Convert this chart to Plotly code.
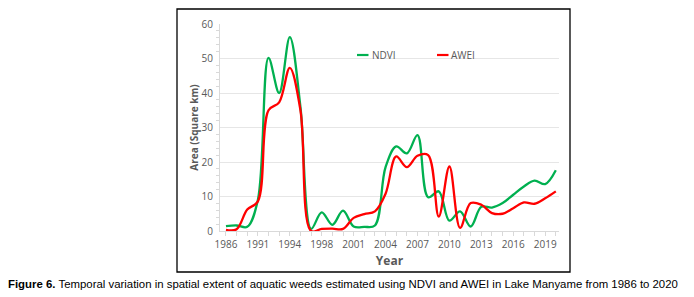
import plotly.graph_objects as go

years = ["1986", "1988", "1990", "1991", "1992", "1993", "1994", "1996", "1997",
         "1998", "1999", "2000", "2001", "2002", "2003", "2004", "2005", "2006",
         "2007", "2008", "2009", "2010", "2011", "2012", "2013", "2014", "2015",
         "2016", "2017", "2018", "2019", "2020"]
ndvi = [1.4, 1.6, 1.2, 9.0, 50.2, 40.0, 56.2, 36.0, 0.6,
        5.4, 1.8, 5.9, 1.3, 1.2, 1.6, 18.5, 24.5, 22.5,
        27.8, 9.8, 11.5, 3.0, 5.7, 1.3, 7.0, 6.8, 8.1,
        10.5, 12.9, 14.6, 13.6, 17.6]
awei = [0.3, 0.5, 6.2, 8.6, 35.0, 37.3, 47.3, 35.0, 0.0,
        0.6, 0.7, 0.6, 3.8, 4.9, 5.7, 10.8, 21.6, 18.5,
        21.8, 22.0, 4.2, 18.7, 0.9, 8.1, 7.6, 5.2, 5.0,
        6.6, 8.3, 7.9, 9.5, 11.5]
tick_labels = ["1986", "1991", "1994", "1998", "2001", "2004", "2007", "2010",
               "2013", "2016", "2019"]
series_names = ["NDVI", "AWEI"]
series_colors = ["#00B050", "#FF0000"]

xi = list(range(len(years)))
tickvals = [xi[years.index(t)] for t in tick_labels]

W, H = 694, 297
L, R, T, B = 220, 135, 24, 66
pw, ph = W - L - R, H - T - B

def px(x):
    return (x - L) / pw

def py(y):
    return (H - B - y) / ph

fig = go.Figure()
for name, vals, col in zip(series_names, [ndvi, awei], series_colors):
    fig.add_trace(go.Scatter(x=xi, y=vals, name=name, mode="lines",
                             line=dict(color=col, width=2.3, shape="spline", smoothing=1.0),
                             customdata=years, showlegend=False))

grey = "#595959"
fig.update_layout(
    width=W, height=H,
    margin=dict(l=L, r=R, t=T, b=B, pad=0),
    paper_bgcolor="white", plot_bgcolor="white",
    font=dict(family="Open Sans, Liberation Sans, sans-serif", size=10, color=grey),
    showlegend=False,
    xaxis=dict(range=[-0.56, 31.3], tickvals=tickvals, ticktext=tick_labels,
               showgrid=False, zeroline=False, showline=True, linecolor="#d9d9d9",
               linewidth=1, ticks="outside", ticklen=4, tickcolor="#d9d9d9",
               minor=dict(dtick=1, ticks="outside", ticklen=4, tickcolor="#d9d9d9"),
               tickfont=dict(size=10, color=grey),
               title=dict(text="<b>Year</b>", font=dict(size=12, color=grey), standoff=6)),
    yaxis=dict(range=[0, 60], dtick=10, showgrid=True, gridcolor="#e6e6e6", gridwidth=1,
               zeroline=False, showline=True, linecolor="#d9d9d9", linewidth=1,
               ticks="", minor=dict(dtick=2, ticks="outside", ticklen=3, tickcolor="#d9d9d9"),
               tickfont=dict(size=10, color=grey), ticklabelstandoff=4,
               title=dict(text="<b>Area (Square km)</b>", font=dict(size=10, color=grey), standoff=1)),
)

# legend keys (custom, short line samples like the reference)
legend_pos = [(357, 370), (437, 449)]
for name, col, (lx, tx) in zip(series_names, series_colors, legend_pos):
    fig.add_shape(type="line", xref="paper", yref="paper",
                  x0=px(lx), x1=px(lx + 11.5), y0=py(55), y1=py(55),
                  line=dict(color=col, width=2.2))
    fig.add_annotation(xref="paper", yref="paper", x=px(tx), y=py(55),
                       xanchor="left", yanchor="middle", showarrow=False,
                       text=name, font=dict(size=10, color=grey))

# chart border box
fig.add_shape(type="rect", xref="paper", yref="paper",
              x0=px(177), x1=px(570), y0=py(272), y1=py(9),
              line=dict(color="black", width=1.3), fillcolor="rgba(0,0,0,0)", layer="below")

# caption
fig.add_annotation(xref="paper", yref="paper", x=px(6), y=py(284), xanchor="left", yanchor="middle",
                   showarrow=False, align="left",
                   text="<b>Figure 6.</b> Temporal variation in spatial extent of aquatic weeds estimated using NDVI and AWEI in Lake Manyame from 1986 to 2020",
                   font=dict(family="Liberation Sans, Arial, sans-serif", size=11.4, color="black"))

fig.write_html("out.html", config={"displayModeBar": False},
               post_script="document.body.style.margin='0';document.body.style.overflow='hidden';")
